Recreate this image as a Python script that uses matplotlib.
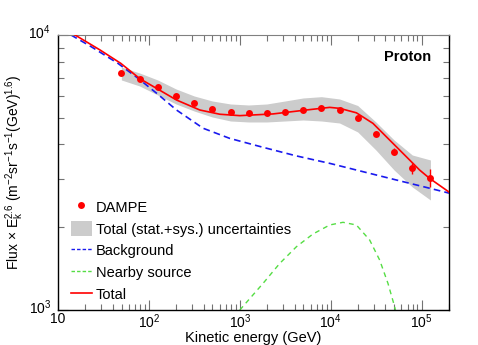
import numpy as np
import matplotlib.pyplot as plt
from matplotlib.patches import Patch
from matplotlib.lines import Line2D
from matplotlib.transforms import ScaledTranslation

plt.rcParams['font.family'] = ['Liberation Sans', 'DejaVu Sans']
plt.rcParams['mathtext.fontset'] = 'custom'
plt.rcParams['mathtext.rm'] = 'Liberation Sans'
plt.rcParams['mathtext.it'] = 'Liberation Sans:italic'

# DAMPE proton data (E^2.6 weighted flux)
e_data = [49.8, 79.0, 125, 199, 315, 499, 791, 1250, 1980, 3140, 4980, 7900,
          12500, 19800, 31400, 49800, 79000, 125000]
f_data = [7295, 6905, 6456, 5998, 5645, 5400, 5248, 5202, 5202, 5262, 5347, 5445,
          5336, 4989, 4365, 3766, 3275, 3027]
f_err = [40, 40, 35, 30, 30, 30, 30, 30, 30, 35, 40, 45,
         50, 55, 70, 117, 160, 235]

# total uncertainty band
band_hi = [7649, 7275, 6862, 6363, 6001, 5754, 5612, 5565, 5612, 5754, 5902, 5966,
           5853, 5541, 4827, 4152, 3661, 3512]
band_lo = [6862, 6525, 6051, 5612, 5291, 5032, 4867, 4827, 4827, 4867, 4908, 4867,
           4786, 4441, 3818, 3229, 2802, 2512]

# model curves
e_bkg = [13.9, 23.2, 45.6, 75.7, 121.6, 201, 395, 776, 1803, 4198, 9750, 22660,
         52700, 122400, 200000]
f_bkg = [10000, 9066, 7888, 6965, 6140, 5337, 4580, 4207, 3904, 3633, 3414, 3184,
         2970, 2772, 2661]

e_src = [1000, 1803, 2754, 4198, 6384, 9750, 13650, 19150, 26820, 34540, 42640,
         50500, 51400]
f_src = [1000, 1250, 1478, 1699, 1890, 2038, 2084, 2038, 1797, 1520, 1250,
         1028, 1000]

e_tot = [15.4, 29, 49, 79.6, 121, 201, 363, 603, 1000, 2323, 5408, 9750, 12560,
         19150, 29150, 44460, 67900, 95100, 122400, 198000]
f_tot = [10000, 8820, 7888, 6934, 6400, 5803, 5337, 5150, 5090, 5164, 5337, 5455,
         5410, 5213, 4772, 4150, 3609, 3228, 3011, 2692]

fig = plt.figure(figsize=(4.78, 3.45), dpi=100)
ax = fig.add_axes([0.1213, 0.1014, 0.818, 0.7972])

ax.fill_between(e_data, band_lo, band_hi, color='#cccccc', lw=0, zorder=1)
ax.plot(e_bkg, f_bkg, color='#1a1aee', ls=(0, (4, 2.5)), lw=1.2, zorder=2)
ax.plot(e_src, f_src, color='#55dd44', ls=(0, (3.5, 3)), lw=1.0, zorder=2)
ax.plot(e_tot, f_tot, color='red', lw=1.2, zorder=3)
ax.errorbar(e_data, f_data, yerr=f_err, fmt='o', color='red', ms=5, mew=0,
            elinewidth=1.0, capsize=1.5, zorder=4)

ax.set_xscale('log')
ax.set_yscale('log')
ax.set_xlim(10, 2e5)
ax.set_ylim(1000, 10000)

ax.set_xticks([10, 100, 1000, 1e4, 1e5])
ax.set_xticklabels(['10', '$10^2$', '$10^3$', '$10^4$', '$10^5$'])
ax.set_yticks([1000, 10000])
ax.set_yticklabels(['$10^3$', '$10^4$'])
ax.tick_params(which='both', direction='in', top=True, right=True, labelsize=10)
ax.tick_params(which='major', length=7, width=0.8, colors='0.45', labelcolor='black')
ax.tick_params(which='minor', length=4, width=0.8, colors='0.45')
ax.tick_params(axis='x', pad=1.5)
ax.tick_params(axis='y', pad=5)
ax.spines['top'].set_color('0.5')
for s in ['left', 'right', 'bottom']:
    ax.spines[s].set_linewidth(1.0)

# lift the y tick labels so the "10" sits on the tick, as in the original
shift = ScaledTranslation(0, 3 / 72, fig.dpi_scale_trans)
for lab in ax.get_yticklabels():
    lab.set_transform(lab.get_transform() + shift)

ax.set_xlabel('Kinetic energy (GeV)', fontsize=10.5)
ax.xaxis.set_label_coords(0.5, -0.075)
ax.set_ylabel(r'Flux $\times$ E$_{\rm k}^{2.6}$ (m$^{-2}$sr$^{-1}$s$^{-1}$(GeV)$^{1.6}$)',
              fontsize=10)
ax.yaxis.set_label_coords(-0.082, 0.5)
ax.text(0.954, 0.92, 'Proton', transform=ax.transAxes, ha='right', va='center',
        fontsize=10.5, fontweight='bold')

handles = [
    Line2D([], [], ls='none', marker='o', color='red', ms=5, mew=0),
    Patch(facecolor='#cccccc', edgecolor='none'),
    Line2D([], [], color='#1a1aee', ls=(0, (2.5, 1.5)), lw=1.0),
    Line2D([], [], color='#55dd44', ls=(0, (2.5, 1.5)), lw=1.0),
    Line2D([], [], color='red', lw=1.2),
]
labels = ['DAMPE', 'Total (stat.+sys.) uncertainties', 'Background',
          'Nearby source', 'Total']
ax.legend(handles, labels, loc='lower left', bbox_to_anchor=(0.0, -0.02),
          frameon=False, fontsize=10.5, handlelength=1.4, handleheight=1.2,
          handletextpad=0.3, labelspacing=0.45)

fig.savefig('out.png', dpi=100)
